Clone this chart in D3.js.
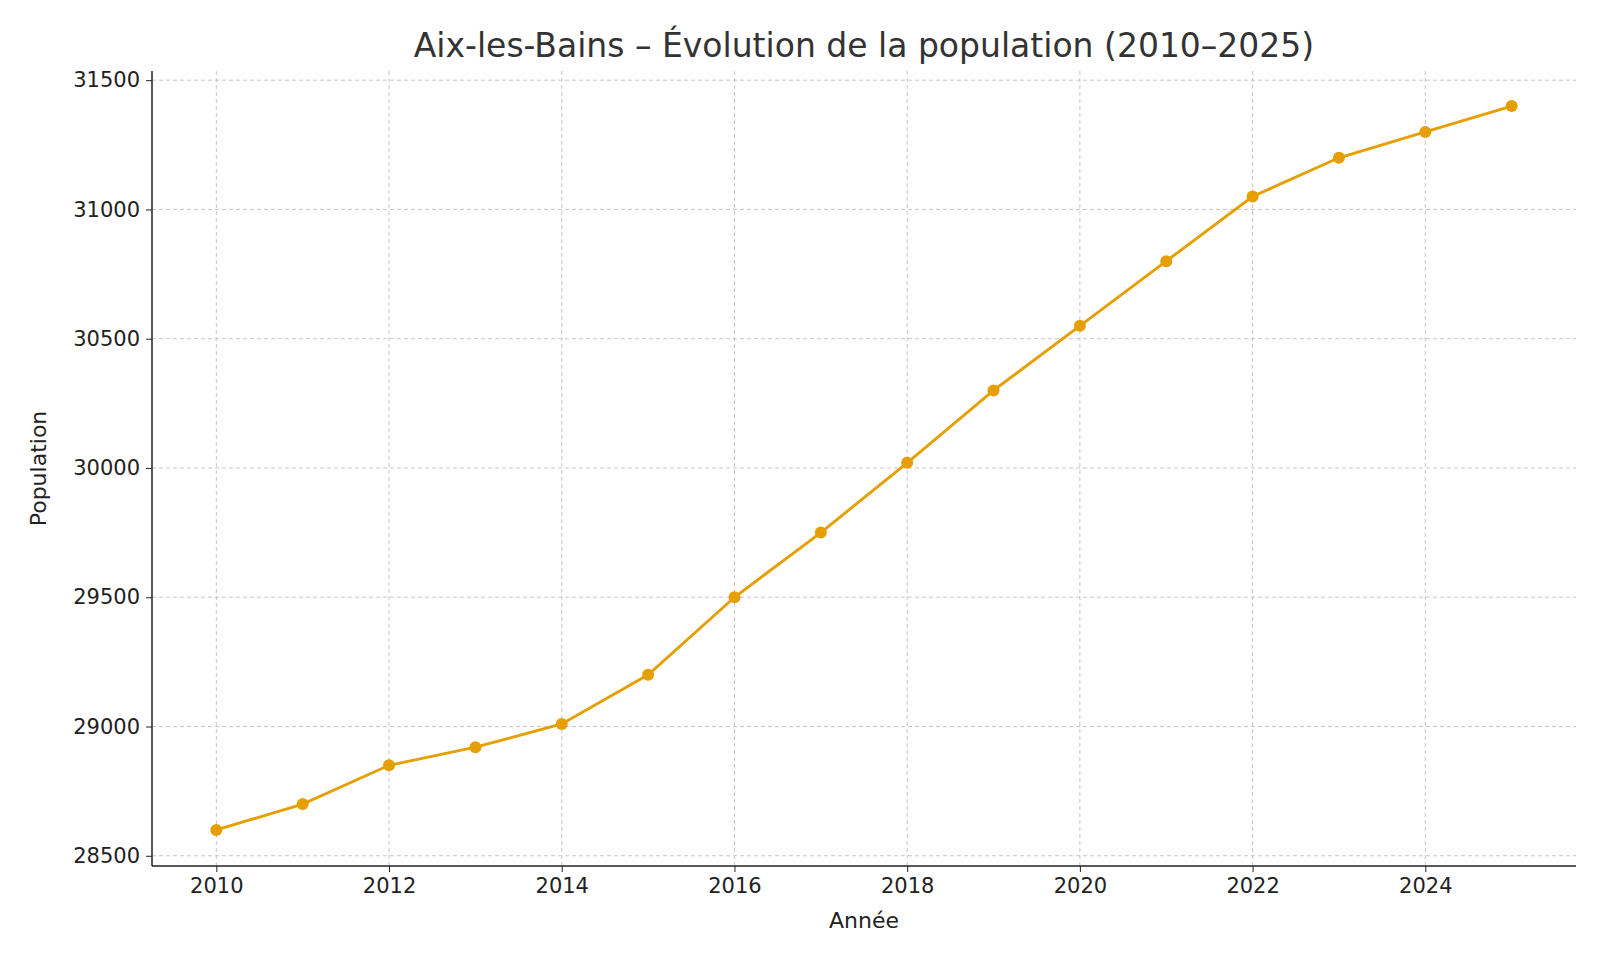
<!DOCTYPE html>
<html>
<head>
<meta charset="utf-8">
<script src="https://cdn.jsdelivr.net/npm/d3@7"></script>
<style>
  body { margin: 0; background: #fff; }
  text { font-family: "DejaVu Sans", sans-serif; fill: #222; }
</style>
</head>
<body>
<div id="chart"></div>
<script>
'use strict'

var width = 1600;
var height = 960;
var margin = {left: 152, right: 24, top: 71, bottom: 94};

var years = [2010, 2011, 2012, 2013, 2014, 2015, 2016, 2017, 2018, 2019, 2020, 2021, 2022, 2023, 2024, 2025];
var population = [28600, 28700, 28850, 28920, 29010, 29200, 29500, 29750, 30020, 30300, 30550, 30800, 31050, 31200, 31300, 31400];
var xTicks = [2010, 2012, 2014, 2016, 2018, 2020, 2022, 2024];
var yTicks = [28500, 29000, 29500, 30000, 30500, 31000, 31500];
var lineColor = '#E69F00';

var svg = d3.select('#chart').append('svg')
  .attr('width', width)
  .attr('height', height);

var innerW = width - margin.left - margin.right;
var innerH = height - margin.top - margin.bottom;

var g = svg.append('g')
  .attr('transform', 'translate(' + margin.left + ',' + margin.top + ')');

var xScale = d3.scaleLinear().domain([2009.255, 2025.745]).range([0, innerW]);
var yScale = d3.scaleLinear().domain([28460.5, 31535.5]).range([innerH, 0]);

//grid lines
g.selectAll('.vgrid').data(xTicks).enter().append('line')
  .attr('x1', function(d){return xScale(d);})
  .attr('x2', function(d){return xScale(d);})
  .attr('y1', 0).attr('y2', innerH)
  .attr('stroke', '#c0c0c0').attr('stroke-dasharray', '4,3').attr('stroke-width', 0.9);

g.selectAll('.hgrid').data(yTicks).enter().append('line')
  .attr('y1', function(d){return yScale(d);})
  .attr('y2', function(d){return yScale(d);})
  .attr('x1', 0).attr('x2', innerW)
  .attr('stroke', '#c0c0c0').attr('stroke-dasharray', '4,3').attr('stroke-width', 0.9);

//axes
var xAxis = g.append('g')
  .attr('transform', 'translate(0,' + innerH + ')')
  .call(d3.axisBottom(xScale).tickValues(xTicks).tickFormat(d3.format('d')).tickSize(6).tickPadding(6));
var yAxis = g.append('g')
  .call(d3.axisLeft(yScale).tickValues(yTicks).tickFormat(d3.format('d')).tickSize(6).tickPadding(6));

[xAxis, yAxis].forEach(function(a){
  a.attr('font-size', null).attr('font-family', null);
  a.selectAll('text').style('font-size', '21px').attr('fill', '#222');
  a.select('.domain').remove();
  a.selectAll('.tick line').attr('stroke', '#222');
});

//spines
g.append('line').attr('x1', 0).attr('x2', innerW).attr('y1', innerH).attr('y2', innerH)
  .attr('stroke', '#222').attr('stroke-width', 1.5);
g.append('line').attr('x1', 0).attr('x2', 0).attr('y1', 0).attr('y2', innerH)
  .attr('stroke', '#222').attr('stroke-width', 1.5);

//line and points
var line = d3.line()
  .x(function(d, i){return xScale(years[i]);})
  .y(function(d){return yScale(d);});

g.append('path')
  .datum(population)
  .attr('d', line)
  .attr('fill', 'none')
  .attr('stroke', lineColor)
  .attr('stroke-width', 2.9);

g.selectAll('circle').data(population).enter().append('circle')
  .attr('cx', function(d, i){return xScale(years[i]);})
  .attr('cy', function(d){return yScale(d);})
  .attr('r', 6)
  .attr('fill', lineColor);

//labels
svg.append('text')
  .attr('x', margin.left + innerW / 2).attr('y', 57)
  .attr('text-anchor', 'middle').style('font-size', '33px').style('fill', '#333')
  .text('Aix-les-Bains – Évolution de la population (2010–2025)');

svg.append('text')
  .attr('x', margin.left + innerW / 2).attr('y', 928)
  .attr('text-anchor', 'middle').style('font-size', '22px')
  .text('Année');

svg.append('text')
  .attr('transform', 'translate(46,' + (margin.top + innerH / 2) + ') rotate(-90)')
  .attr('text-anchor', 'middle').style('font-size', '22px')
  .text('Population');
</script>
</body>
</html>
